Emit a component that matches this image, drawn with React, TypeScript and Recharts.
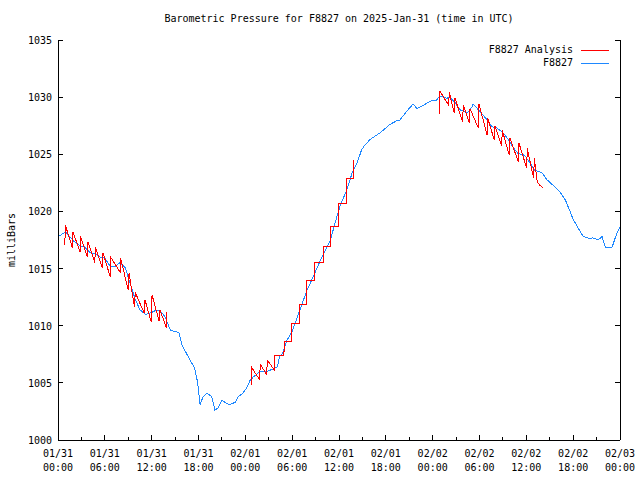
import { Line, LineChart, XAxis, YAxis } from 'recharts';

const FONT = '"DejaVu Sans Mono", monospace';

// hours since 01/31 00:00 UTC
const stationHours = [0, 0.5, 1, 1.5, 2, 2.8, 3.4, 4.1, 4.8, 5.4, 6, 6.7, 7.3, 7.9, 8.6, 9.2, 9.9, 10.5, 11.2, 11.8, 12.4, 13.1, 13.7, 14.4, 15, 15.5, 15.9, 16.9, 17.5, 17.9, 18.2, 18.6, 19.1, 19.7, 20.1, 20.5, 21, 21.6, 22, 22.7, 23.1, 23.7, 24.2, 24.6, 25, 25.9, 26.8, 27.5, 28.1, 28.4, 28.8, 29.3, 30, 31, 31.9, 32.7, 33.8, 34.9, 35.5, 36.1, 37, 37.7, 38.3, 38.9, 39.3, 40, 41.3, 42.5, 43.3, 43.8, 44.5, 45.1, 45.5, 46, 46.6, 47.3, 47.9, 48.5, 48.9, 49.8, 50.2, 50.9, 51.5, 52.4, 53, 53.2, 54.1, 55, 55.6, 56.2, 57, 57.9, 58.3, 58.9, 59.8, 60.5, 61.1, 62, 62.6, 63.4, 64.3, 65, 65.6, 66, 66.6, 67.3, 68.2, 68.5, 69.2, 69.7, 70.1, 70.5, 71, 71.6, 72];
const stationPressure = [1017.8, 1018.0, 1018.2, 1017.8, 1017.4, 1017.0, 1016.9, 1016.4, 1016.3, 1016.0, 1015.9, 1015.2, 1015.2, 1015.5, 1015.1, 1013.8, 1012.3, 1011.4, 1011.0, 1011.1, 1011.3, 1011.3, 1010.8, 1009.6, 1009.5, 1009.4, 1008.3, 1007.0, 1006.3, 1005.0, 1003.1, 1003.8, 1004.1, 1003.8, 1002.6, 1002.8, 1003.5, 1003.2, 1003.1, 1003.3, 1003.8, 1004.1, 1004.6, 1005.2, 1005.5, 1006.0, 1006.0, 1006.2, 1006.4, 1007.3, 1007.6, 1008.7, 1009.5, 1011.4, 1013.1, 1014.3, 1016.0, 1017.5, 1019.0, 1020.4, 1021.9, 1023.4, 1024.2, 1025.4, 1025.8, 1026.3, 1026.9, 1027.6, 1027.9, 1028.0, 1028.6, 1029.1, 1029.4, 1029.0, 1029.2, 1029.5, 1029.7, 1029.75, 1030.1, 1029.9, 1030.0, 1029.5, 1028.9, 1028.6, 1029.1, 1029.4, 1028.7, 1028.0, 1027.4, 1027.3, 1026.9, 1026.1, 1025.6, 1025.1, 1024.9, 1024.2, 1023.6, 1023.4, 1022.8, 1022.3, 1021.7, 1021.0, 1020.0, 1019.3, 1018.6, 1017.8, 1017.6, 1017.7, 1017.5, 1017.8, 1016.9, 1016.8, 1016.9, 1018.1, 1018.6];

const analysisHours = [
  0.88, 0.94, 1.85, 1.92, 2.83, 2.9, 3.78, 3.84, 4.72, 4.78, 5.7, 5.76, 6.68, 6.75, 7.95, 8.03, 9.0, 9.1, 9.8, 9.9, 11.05, 11.15, 11.95, 12.05, 12.95, 13.05, 13.9, 13.96,
  18,
  24.8, 24.85, 25.85, 25.9, 26.75, 26.8, 27.75, 27.8, 28.95, 28.97, 29.9, 29.94, 30.9, 30.92, 31.84, 31.86, 32.9, 32.92, 33.97, 33.99, 34.91, 34.93, 35.89, 35.91, 36.96, 36.98, 37.9, 37.92,
  43,
  48.85, 48.94, 50.05, 50.13, 50.78, 50.86, 51.84, 51.92, 52.7, 52.78, 53.85, 53.93, 54.97, 55.05, 55.9, 55.98, 56.84, 56.92, 57.82, 57.9, 58.97, 59.05, 60.04, 60.12, 60.94, 61.02, 61.4, 61.7, 62.09,
];
const analysisPressure = [
  1017.1, 1018.8, 1016.8, 1018.2, 1016.45, 1017.8, 1016.0, 1017.3, 1015.5, 1016.9, 1015.05, 1016.4, 1014.3, 1016.0, 1014.7, 1015.9, 1013.1, 1014.6, 1011.6, 1012.9, 1011.1, 1012.25, 1010.3, 1012.7, 1010.4, 1011.4, 1009.8, 1011.2,
  null,
  1004.8, 1006.3, 1005.25, 1006.65, 1005.7, 1007.0, 1006.1, 1007.4, 1007.4, 1008.6, 1008.6, 1010.2, 1010.2, 1011.9, 1011.9, 1014.0, 1014.0, 1015.5, 1015.5, 1016.9, 1016.9, 1018.7, 1018.7, 1020.7, 1020.7, 1022.9, 1022.9, 1024.5,
  null,
  1028.5, 1030.5, 1029.3, 1030.4, 1028.6, 1029.9, 1027.85, 1029.3, 1027.7, 1029.0, 1027.3, 1029.4, 1026.7, 1028.15, 1026.25, 1027.5, 1025.7, 1027.1, 1024.9, 1026.4, 1024.35, 1026.0, 1023.8, 1025.5, 1022.9, 1024.65, 1022.6, 1022.3, 1022.1,
];

const hourTicks = [0, 3, 6, 9, 12, 15, 18, 21, 24, 27, 30, 33, 36, 39, 42, 45, 48, 51, 54, 57, 60, 63, 66, 69, 72];
const labelHours = [0, 6, 12, 18, 24, 30, 36, 42, 48, 54, 60, 66, 72];
const dateLabels = ['01/31', '01/31', '01/31', '01/31', '02/01', '02/01', '02/01', '02/01', '02/02', '02/02', '02/02', '02/02', '02/03'];
const timeLabels = ['00:00', '06:00', '12:00', '18:00', '00:00', '06:00', '12:00', '18:00', '00:00', '06:00', '12:00', '18:00', '00:00'];
const pressureTicks = [1000, 1005, 1010, 1015, 1020, 1025, 1030, 1035];

const series = [
  { name: 'F8827 Analysis', color: '#ff0000' },
  { name: 'F8827', color: '#1e88ff' },
];

const stationData = stationHours.map((h, i) => ({ h, p: stationPressure[i] }));
const analysisData = analysisHours.map((h, i) => ({ h, p: analysisPressure[i] }));

const crisp = { shapeRendering: 'crispEdges' as const };

function BottomTick(props: any) {
  const { x, y, payload } = props;
  const idx = labelHours.indexOf(payload.value);
  const major = idx >= 0;
  return <g>
    <line x1={x} x2={x} y1={y} y2={y - (major ? 5 : 3)} stroke="#000" {...crisp} />
    {major && <text x={x} y={y + 17} textAnchor="middle" fontFamily={FONT} fontSize={10} fill="#000">{dateLabels[idx]}</text>}
    {major && <text x={x} y={y + 31} textAnchor="middle" fontFamily={FONT} fontSize={10} fill="#000">{timeLabels[idx]}</text>}
  </g>;
}

function TopTick(props: any) {
  const { x, y, payload } = props;
  const major = labelHours.includes(payload.value);
  return <line x1={x} x2={x} y1={y} y2={y + (major ? 5 : 3)} stroke="#000" {...crisp} />;
}

function LeftTick(props: any) {
  const { x, y, payload } = props;
  return <g>
    <line x1={x} x2={x + 5} y1={y} y2={y} stroke="#000" {...crisp} />
    <text x={x - 6} y={y + 4} textAnchor="end" fontFamily={FONT} fontSize={10} fill="#000">{payload.value}</text>
  </g>;
}

function RightTick(props: any) {
  const { x, y } = props;
  return <line x1={x} x2={x - 5} y1={y} y2={y} stroke="#000" {...crisp} />;
}

function YTitle(props: any) {
  const { viewBox } = props;
  const cx = viewBox.x + 11;
  const cy = viewBox.y + viewBox.height / 2;
  return <text x={cx} y={cy} transform={`rotate(-90 ${cx} ${cy})`} textAnchor="middle" dominantBaseline="central" fontFamily={FONT} fontSize={10} fill="#000">milliBars</text>;
}

export default function App() {
  const axisLine = { stroke: '#000', ...crisp };
  return <div style={{ position: 'absolute', left: 0, top: 0, width: 640, height: 480, background: '#fff', fontFamily: FONT }}>
    <div style={{ position: 'absolute', left: 58, width: 562, top: 13, textAlign: 'center', fontSize: 10, lineHeight: '12px', color: '#000', whiteSpace: 'pre' }}>
      Barometric Pressure for F8827 on 2025-Jan-31 (time in UTC)
    </div>
    <LineChart width={640} height={480} margin={{ top: 40, right: 0, bottom: 0, left: 0 }}>
      <XAxis xAxisId="b" dataKey="h" type="number" domain={[0, 72]} ticks={hourTicks} interval={0} height={40}
        tickSize={0} tickMargin={0} tickLine={false} axisLine={axisLine} tick={BottomTick} allowDataOverflow />
      <XAxis xAxisId="t" dataKey="h" orientation="top" type="number" domain={[0, 72]} ticks={hourTicks} interval={0} height={0}
        tickSize={0} tickMargin={0} tickLine={false} axisLine={axisLine} tick={TopTick} allowDataOverflow />
      <YAxis yAxisId="l" type="number" domain={[1000, 1035]} ticks={pressureTicks} interval={0} width={58}
        tickSize={0} tickMargin={0} tickLine={false} axisLine={axisLine} tick={LeftTick} label={YTitle} allowDataOverflow />
      <YAxis yAxisId="r" orientation="right" type="number" domain={[1000, 1035]} ticks={pressureTicks} interval={0} width={20}
        tickSize={0} tickMargin={0} tickLine={false} axisLine={axisLine} tick={RightTick} allowDataOverflow />
      <Line xAxisId="t" yAxisId="r" data={stationData} dataKey="p" stroke="none" dot={false} activeDot={false} isAnimationActive={false} />
      <Line xAxisId="b" yAxisId="l" data={stationData} dataKey="p" name="F8827" type="linear" stroke={series[1].color} strokeWidth={1}
        dot={false} activeDot={false} isAnimationActive={false} {...crisp} />
      <Line xAxisId="b" yAxisId="l" data={analysisData} dataKey="p" name="F8827 Analysis" type="linear" stroke={series[0].color} strokeWidth={1}
        dot={false} activeDot={false} connectNulls={false} isAnimationActive={false} {...crisp} />
    </LineChart>
    <div style={{ position: 'absolute', right: 31, top: 44, fontSize: 10, lineHeight: '12.5px', color: '#000' }}>
      {series.map(s => <div key={s.name} style={{ display: 'flex', justifyContent: 'flex-end', alignItems: 'center', height: 12.5 }}>
        <span>{s.name}</span>
        <svg width={36} height={8}><line x1={8} x2={36} y1={4} y2={4} stroke={s.color} {...crisp} /></svg>
      </div>)}
    </div>
  </div>;
}
